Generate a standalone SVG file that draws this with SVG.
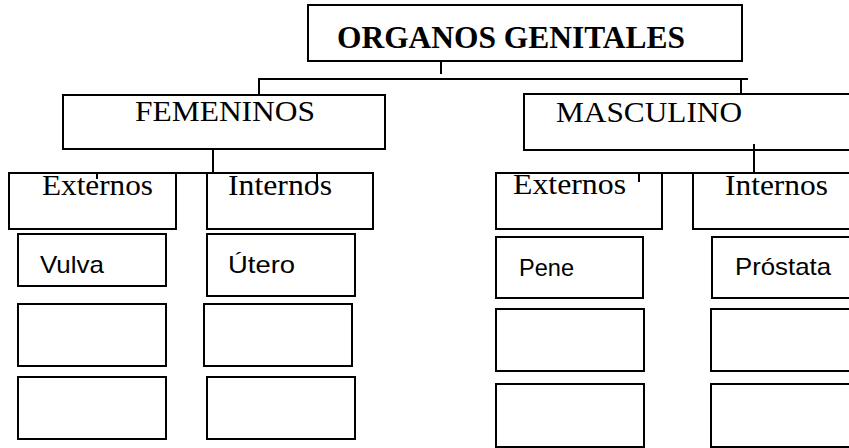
<svg xmlns="http://www.w3.org/2000/svg" width="849" height="448" viewBox="0 0 849 448">
<style>
rect{fill:none;stroke:#000;stroke-width:2}
line{stroke:#000;stroke-width:2}
.s{font-family:"Liberation Serif","Times New Roman",serif;font-size:30px;fill:#000}
.b{font-weight:bold;font-size:31px}
.c{font-family:"Liberation Sans",Arial,sans-serif;font-size:24px;fill:#000}
</style>
<rect x="0" y="0" width="849" height="448" style="fill:#fff;stroke:none"/>
<g id="connectors">
<line x1="441" y1="61" x2="441" y2="74"/>
<line x1="259" y1="79" x2="748" y2="79"/>
<line x1="259" y1="78" x2="259" y2="96"/>
<line x1="741" y1="79" x2="741" y2="95"/>
<line x1="213" y1="149" x2="213" y2="173"/>
<line x1="97" y1="173" x2="318" y2="173"/>
<line x1="97" y1="172" x2="97" y2="179"/>
<line x1="317" y1="172" x2="317" y2="186"/>
<line x1="754" y1="144" x2="754" y2="173"/>
<line x1="639" y1="173" x2="849" y2="173"/>
<line x1="639" y1="172" x2="639" y2="182"/>
</g>
<g id="title"><rect x="308" y="5" width="434" height="56"/><text class="s b" x="337" y="48" textLength="348" lengthAdjust="spacingAndGlyphs">ORGANOS GENITALES</text></g>
<g id="femeninos"><rect x="63" y="95" width="322" height="54"/><text class="s" x="135" y="121" textLength="180" lengthAdjust="spacingAndGlyphs">FEMENINOS</text></g>
<g id="masculino"><rect x="524" y="94" width="336" height="56"/><text class="s" x="556" y="122" textLength="186" lengthAdjust="spacingAndGlyphs">MASCULINO</text></g>
<g id="f-externos"><rect x="9" y="173" width="167" height="56"/><text class="s" x="42" y="195" textLength="111" lengthAdjust="spacingAndGlyphs">Externos</text></g>
<g id="f-internos"><rect x="207" y="173" width="166" height="56"/><text class="s" x="228" y="195" textLength="104" lengthAdjust="spacingAndGlyphs">Internos</text></g>
<g id="vulva"><rect x="18" y="234" width="148" height="52"/><text class="c" x="40" y="273" textLength="64" lengthAdjust="spacingAndGlyphs">Vulva</text></g>
<g id="utero"><rect x="207" y="234" width="148" height="62"/><text class="c" x="228" y="273" textLength="67" lengthAdjust="spacingAndGlyphs">Útero</text></g>
<g id="f-ext-2"><rect x="18" y="304" width="148" height="62"/></g>
<g id="f-int-2"><rect x="204" y="304" width="148" height="62"/></g>
<g id="f-ext-3"><rect x="18" y="377" width="148" height="62"/></g>
<g id="f-int-3"><rect x="207" y="377" width="148" height="62"/></g>
<g id="m-externos"><rect x="496" y="173" width="166" height="56"/><text class="s" x="513" y="194" textLength="113" lengthAdjust="spacingAndGlyphs">Externos</text></g>
<g id="m-internos"><rect x="693" y="173" width="167" height="56"/><text class="s" x="725" y="195" textLength="103" lengthAdjust="spacingAndGlyphs">Internos</text></g>
<g id="pene"><rect x="496" y="237" width="147" height="61"/><text class="c" x="519" y="276" textLength="55" lengthAdjust="spacingAndGlyphs">Pene</text></g>
<g id="prostata"><rect x="712" y="237" width="148" height="61"/><text class="c" x="735" y="275" textLength="96" lengthAdjust="spacingAndGlyphs">Próstata</text></g>
<g id="m-ext-2"><rect x="496" y="309" width="148" height="62"/></g>
<g id="m-int-2"><rect x="711" y="309" width="149" height="62"/></g>
<g id="m-ext-3"><rect x="496" y="384" width="148" height="63"/></g>
<g id="m-int-3"><rect x="711" y="384" width="149" height="63"/></g>
</svg>
